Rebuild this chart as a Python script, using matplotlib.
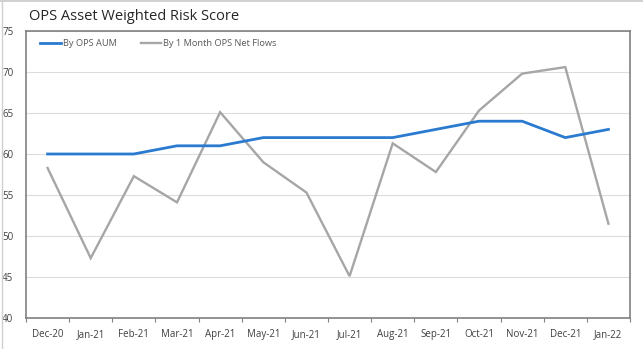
import matplotlib
matplotlib.use("Agg")
import matplotlib.pyplot as plt
from matplotlib.lines import Line2D

months = ["Dec-20", "Jan-21", "Feb-21", "Mar-21", "Apr-21", "May-21", "Jun-21",
          "Jul-21", "Aug-21", "Sep-21", "Oct-21", "Nov-21", "Dec-21", "Jan-22"]
aum = [60, 60, 60, 61, 61, 62, 62, 62, 62, 63, 64, 64, 62, 63]
net_flows = [58.3, 47.3, 57.3, 54.1, 65.1, 59.0, 55.3, 45.1, 61.3, 57.8, 65.3, 69.8, 70.6, 51.5]
yticks = [40, 45, 50, 55, 60, 65, 70, 75]

plt.rcParams['font.family'] = ['Open Sans', 'DejaVu Sans']

fig = plt.figure(figsize=(6.43, 3.49), dpi=100)
ax = fig.add_axes([26/643, (349-318)/349, 604/643, 287/349])

x = list(range(len(months)))
ax.plot(x, aum, color="#2a7bd0", lw=2.0, label="By OPS AUM", solid_joinstyle="round", zorder=3)
ax.plot(x, net_flows, color="#a6a6a6", lw=1.7, label="By 1 Month OPS Net Flows", solid_joinstyle="miter", zorder=2)

ax.set_xlim(-0.5, len(months) - 0.5)
ax.set_ylim(40, 75)
ax.set_yticks(yticks)
ax.set_yticklabels([str(v) for v in yticks], fontsize=7, color="#404040")
ax.set_xticks(x)
ax.set_xticklabels(months, fontsize=7, color="#404040")
ax.set_xticks([i - 0.5 for i in range(len(months) + 1)], minor=True)
ax.tick_params(axis="x", which="major", length=0, pad=8)
ax.tick_params(axis="x", which="minor", length=3, width=0.8, color="#808080", direction="out")
ax.tick_params(axis="y", length=0, pad=9)

ax.grid(axis="y", color="#dcdcdc", lw=0.8, zorder=0)
ax.set_axisbelow(True)
for s in ax.spines.values():
    s.set_color("#808080")
    s.set_linewidth(1.2)

leg = ax.legend(loc="upper left", ncol=2, frameon=False, fontsize=6.7,
                handlelength=2.2, handletextpad=0.2, columnspacing=2.6,
                bbox_to_anchor=(0.01, 1.0), borderaxespad=0.5)
for t in leg.get_texts():
    t.set_color("#595959")

fig.text(29/643, 1 - 17/349, "OPS Asset Weighted Risk Score", fontsize=10.5,
         color="#262626", ha="left", va="center")

# outer chart border (top and left)
fig.add_artist(Line2D([0, 1], [1 - 1/349, 1 - 1/349], color="#c8c8c8", lw=1.2, transform=fig.transFigure))
fig.add_artist(Line2D([2/643, 2/643], [0, 1], color="#d0d0d0", lw=1.0, transform=fig.transFigure))

fig.savefig("out.png", dpi=100)
